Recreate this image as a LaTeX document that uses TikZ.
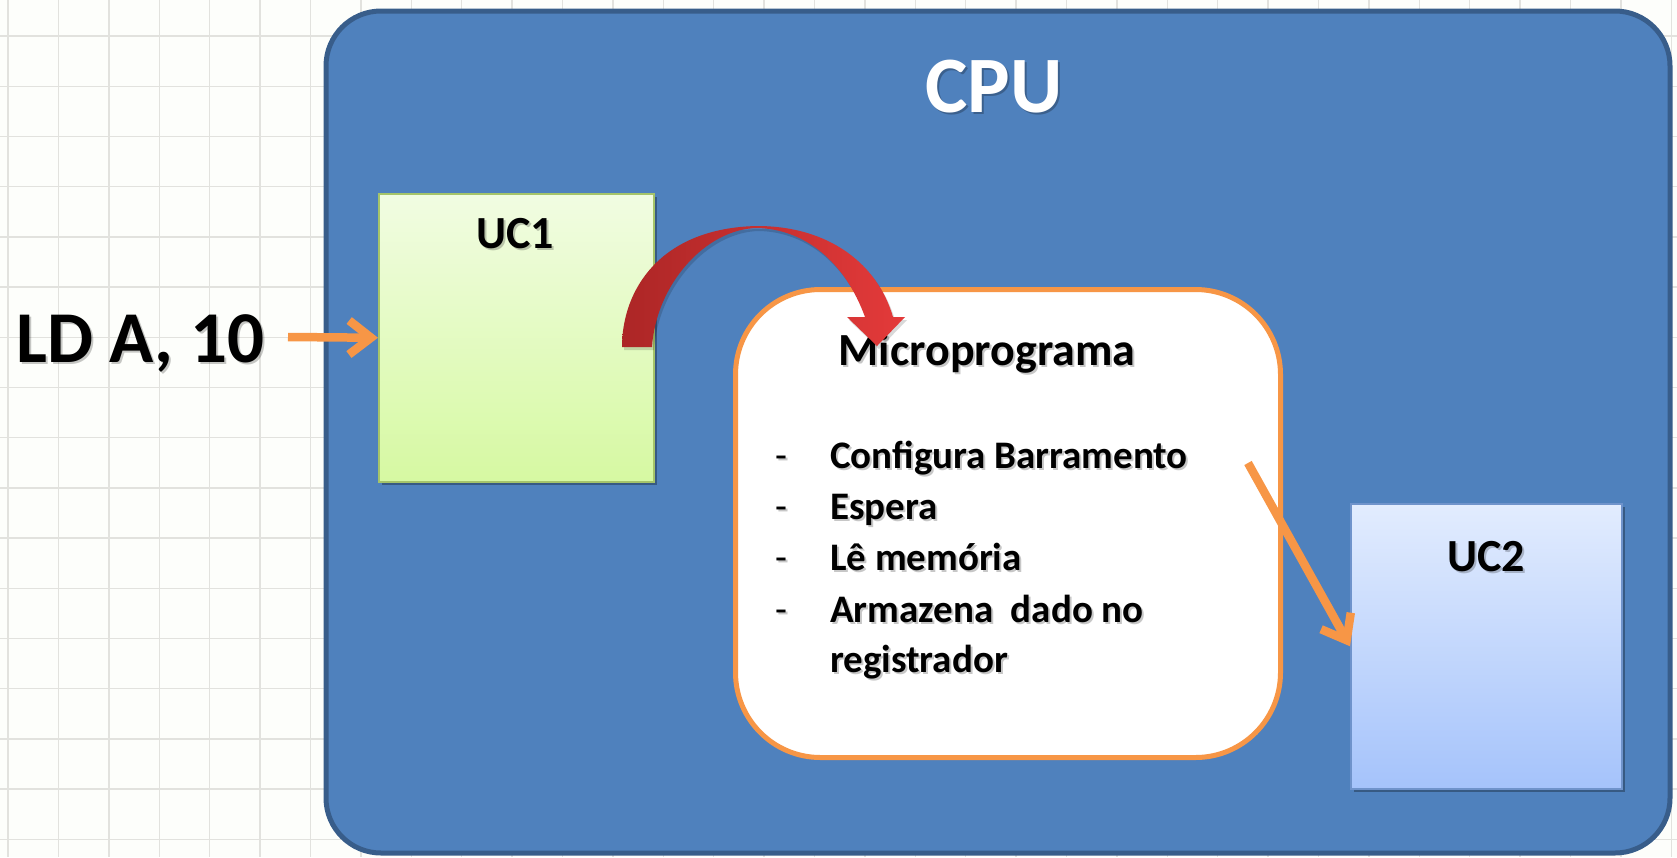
\documentclass[tikz,border=0pt]{standalone}
\usepackage{fontspec}
\setmainfont{Carlito}
\usetikzlibrary{arrows.meta,shadows}
\definecolor{cpufill}{HTML}{4F81BD}
\definecolor{cpuline}{HTML}{385D8A}
\definecolor{orng}{HTML}{F79646}
\definecolor{gridc}{HTML}{E2E2DE}
\definecolor{bgc}{HTML}{FDFEFB}
\definecolor{uconetop}{HTML}{F1FCE2}
\definecolor{uconebot}{HTML}{D6F9A2}
\definecolor{uconeline}{HTML}{A5C46A}
\definecolor{uctwotop}{HTML}{E2ECFE}
\definecolor{uctwobot}{HTML}{A5C3FB}
\definecolor{uctwoline}{HTML}{6F93CB}
\definecolor{reddark}{HTML}{AC2626}
\definecolor{redlight}{HTML}{E43A3A}
\tikzset{
  bigtxt/.style={font=\fontsize{46}{52}\selectfont\bfseries, inner sep=0pt},
  listtxt/.style={font=\fontsize{39}{44}\selectfont\bfseries, inner sep=0pt, anchor=base west},
  dashtxt/.style={font=\fontsize{39}{44}\selectfont, inner sep=0pt, anchor=base west},
  shtxt/.style={text=black, opacity=0.22},
  ucbox/.style={draw, line width=1.5pt, minimum width=275pt, anchor=north west,
    drop shadow={shadow xshift=3pt, shadow yshift=-3pt, opacity=0.3, fill=black}},
  orarrow/.style={draw=orng, line width=8.5pt, -{Straight Barb[length=22pt,width=34pt,line width=8.5pt]}}
}
\begin{document}
\begin{tikzpicture}[x=1pt,y=-1pt]
\useasboundingbox (0,0) rectangle (1677,857);
\fill[bgc] (0,0) rectangle (1677,857);
% grid
\foreach \i in {0,...,33} {
  \draw[gridc, line width=1.4pt] ({8+50.4*\i},0) -- ({8+50.4*\i},857);
}
\foreach \j in {0,...,16} {
  \draw[gridc, line width=1.4pt] (0,{36+50.2*\j}) -- (1677,{36+50.2*\j});
}
% CPU
\draw[fill=cpufill, draw=cpuline, line width=5pt, rounded corners=55pt] (326,11) rectangle (1670,853);
\node[bigtxt, font=\fontsize{80}{90}\selectfont\bfseries, text=black, opacity=0.25, anchor=base] (cpus) at (996,114) {CPU};
\node[bigtxt, font=\fontsize{80}{90}\selectfont\bfseries, text=white, anchor=base] (cpu) at (994,112) {CPU};
% UC1
\node[ucbox, draw=uconeline, top color=uconetop, bottom color=uconebot, minimum height=288pt] (uc1) at (378,193) {};
\node[bigtxt, shtxt, anchor=base] (uc1s) at (517,250) {UC1};
\node[bigtxt, anchor=base] (uc1l) at (515,248) {UC1};
% UC2
\node[ucbox, draw=uctwoline, top color=uctwotop, bottom color=uctwobot, minimum width=271pt, minimum height=285pt] (uc2) at (1350,503) {};
\node[bigtxt, shtxt, anchor=base] (uc2s) at (1488,573) {UC2};
\node[bigtxt, anchor=base] (uc2l) at (1486,571) {UC2};
% Microprograma box
\node[draw=orng, fill=white, line width=5pt, rounded corners=85pt, minimum width=545pt, minimum height=468pt, anchor=north west] (micro) at (733,287) {};
\node[bigtxt, shtxt, anchor=base] (micros) at (989,367) {Microprograma};
\node[bigtxt, anchor=base] (microl) at (987,365) {Microprograma};
% list
\foreach \y/\t [count=\k] in {468/Configura Barramento,519/Espera,570/Lê memória,622/Armazena\ \ dado no} {
  \node[dashtxt, shtxt] (ds\k) at (777,{\y+2}) {-};
  \node[dashtxt] (d\k) at (775,\y) {-};
  \node[listtxt, shtxt] (ts\k) at (832,{\y+2}) {\t};
  \node[listtxt] (t\k) at (830,\y) {\t};
}
\node[listtxt, shtxt] (t5s) at (832,674) {registrador};
\node[listtxt] (t5) at (830,672) {registrador};
% LD A, 10
\node[bigtxt, font=\fontsize{73}{80}\selectfont\bfseries, shtxt, anchor=base west] (lds) at (18,364) {LD A, 10};
\node[bigtxt, font=\fontsize{73}{80}\selectfont\bfseries, anchor=base west] (ld) at (16,362) {LD A, 10};
% orange arrows
\coordinate (a1) at (288,337);
\draw[orarrow] (a1) -- (uc1.west);
\coordinate (a2) at (1248,463);
\draw[orarrow] (a2) -- (uc2.west);
% red curved arrow
\fill[black, opacity=0.15] (624,350) .. controls (624,293) and (662,231) .. (759,229)
  .. controls (832,229) and (880,268) .. (895,320)
  -- (907,320) -- (879,349) -- (849,320) -- (867,320)
  .. controls (847,265) and (807,232) .. (759,231)
  .. controls (707,232) and (658,288) .. (654,350) -- cycle;
\shade[left color=reddark, right color=redlight] (622,347) .. controls (622,290) and (660,228) .. (757,226)
  .. controls (830,226) and (878,265) .. (893,317)
  -- (905,317) -- (877,346) -- (847,317) -- (865,317)
  .. controls (845,262) and (805,229) .. (757,228)
  .. controls (705,229) and (656,285) .. (652,347) -- cycle;
\end{tikzpicture}
\end{document}
